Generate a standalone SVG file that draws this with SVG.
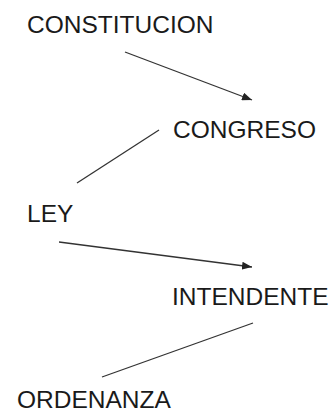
<svg xmlns="http://www.w3.org/2000/svg" width="333" height="413" viewBox="0 0 333 413">
<style>
.t{font-family:"Liberation Sans",Arial,sans-serif;font-size:24.5px;fill:#1a1a1a}
.c{stroke:#333;stroke-width:1.3;fill:none}
</style>
<defs>
<marker id="ah" viewBox="0 0 10 8" refX="10" refY="4" markerWidth="10" markerHeight="8" markerUnits="userSpaceOnUse" orient="auto">
<path d="M0,0 L10,4 L0,8 Z" fill="#222"/>
</marker>
</defs>
<rect width="333" height="413" fill="#fff"/>
<g id="connectors">
<line class="c" x1="125" y1="52" x2="252" y2="100" marker-end="url(#ah)"/>
<line class="c" x1="159" y1="130" x2="77" y2="183"/>
<line class="c" x1="59" y1="242" x2="252" y2="267" marker-end="url(#ah)"/>
<line class="c" x1="253" y1="323" x2="102" y2="377"/>
</g>
<g id="constitucion"><text class="t" x="27" y="33">CONSTITUCION</text></g>
<g id="congreso"><text class="t" x="173" y="138">CONGRESO</text></g>
<g id="ley"><text class="t" x="27" y="222">LEY</text></g>
<g id="intendente"><text class="t" x="172" y="305">INTENDENTE</text></g>
<g id="ordenanza"><text class="t" x="17" y="408">ORDENANZA</text></g>
</svg>
